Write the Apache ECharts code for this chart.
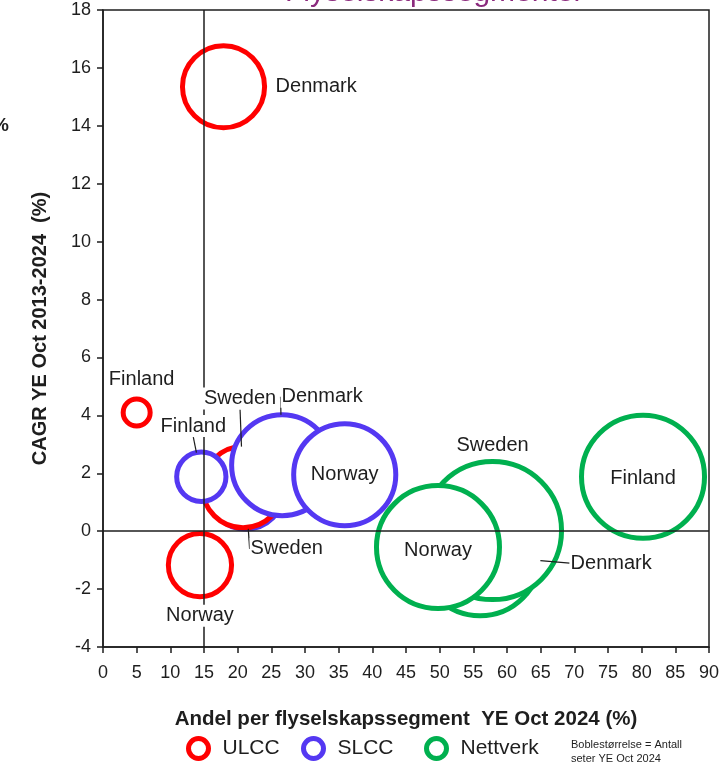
<!DOCTYPE html>
<html>
<head>
<meta charset="utf-8">
<script src="https://cdn.jsdelivr.net/npm/echarts@6/dist/echarts.min.js"></script>
<style>
  html, body { margin: 0; padding: 0; background: #fff; }
  #chart { width: 723px; height: 765px; }
</style>
</head>
<body>
<div id="chart"></div>
<script>
// ---- data: market share per airline segment (x), CAGR 2013-2024 (y), seats (bubble size, millions) ----
const ulccCountries = ['Denmark', 'Finland', 'Norway', 'Sweden'];
const ulccShare     = [17.9, 5.0, 14.4, 20.8];
const ulccCagr      = [15.35, 4.1, -1.17, 1.52];
const ulccSeats     = [8.6, 0.93, 5.1, 8.4];

const slccCountries = ['Sweden', 'Finland', 'Denmark', 'Norway'];
const slccShare     = [21.2, 14.6, 26.6, 35.9];
const slccCagr      = [1.41, 1.88, 2.28, 1.95];
const slccSeats     = [7.6, 3.1, 13.0, 13.3];

const netCountries  = ['Denmark', 'Sweden', 'Norway', 'Finland'];
const netShare      = [56.0, 57.85, 49.75, 80.2];
const netCagr       = [-0.83, 0.02, -0.55, 1.88];
const netSeats      = [18.7, 24.3, 19.3, 19.3];

// axis ticks
const xTicks = { min: 0, max: 90, step: 5 };
const yTicks = { min: -4, max: 18, step: 2 };

// reference lines
const refShare = 15;
const refCagr = 0;

const segmentNames = ['ULCC', 'SLCC', 'Nettverk'];

// ---- styling ----
const COLORS = { ULCC: '#ff0000', SLCC: '#5438f2', Nettverk: '#00b04f' };
const FONT = '"Liberation Sans", Arial, sans-serif';
const TEXT = '#1e1e1e';
const SIZE_K = 28; // diameter per sqrt(million seats)
const LEGEND_LEFT = [186, 301, 424];

// where each bubble's country label sits
const labelPlacement = {
  'ULCC|Denmark':  { position: 'right', distance: 10 },
  'ULCC|Finland':  { position: 'top', distance: 8, dx: 5 },
  'ULCC|Norway':   { position: 'bottom', distance: 8 },
  'ULCC|Sweden':   { position: 'top', distance: 5, dx: -3, dy: -32, line: true },
  'SLCC|Sweden':   { position: 'bottom', distance: 5, dx: 41, dy: 4, line: true },
  'SLCC|Finland':  { position: 'top', distance: 5, dx: -8, dy: -10, line: true },
  'SLCC|Denmark':  { position: 'top', distance: 5, dx: 40, dy: -2, line: true },
  'SLCC|Norway':   { position: 'inside' },
  'Nettverk|Denmark': { position: 'right', distance: 5, dx: 24, dy: 8, line: true },
  'Nettverk|Sweden':  { position: 'top', distance: 5 },
  'Nettverk|Norway':  { position: 'inside', dy: 3 },
  'Nettverk|Finland': { position: 'inside', dy: 2 }
};

function points(group, countries, share, cagr, seats, idx) {
  return idx.map(i => ({
    name: countries[i],
    group: group,
    value: [share[i], cagr[i], seats[i]]
  }));
}
const all = a => a.map((_, i) => i);

const slccUnder = points('SLCC', slccCountries, slccShare, slccCagr, slccSeats, [0]);
const slccRest  = points('SLCC', slccCountries, slccShare, slccCagr, slccSeats, [1, 2, 3]);
const ulccPts   = points('ULCC', ulccCountries, ulccShare, ulccCagr, ulccSeats, all(ulccCountries));
const netPts    = points('Nettverk', netCountries, netShare, netCagr, netSeats, all(netCountries));

const bubbleSize = v => SIZE_K * Math.sqrt(v[2]);

function bubbleSeries(name, data, z) {
  return {
    name: name,
    type: 'scatter',
    z: z,
    data: data.map(d => ({ name: d.name, value: d.value })),
    symbol: 'circle',
    symbolSize: bubbleSize,
    itemStyle: { color: '#ffffff', borderColor: COLORS[name], borderWidth: 5, opacity: 1 },
    emphasis: { disabled: true },
    silent: true,
    animation: false
  };
}

// label layer sits above the reference lines
const labelPts = [].concat(slccUnder, ulccPts, slccRest, netPts);
const labelData = labelPts.map(d => {
  const p = labelPlacement[d.group + '|' + d.name] || {};
  const item = {
    name: d.name,
    value: d.value,
    label: { position: p.position || 'top', distance: p.distance == null ? 5 : p.distance }
  };
  if (p.line) item.labelLine = { show: true };
  return item;
});

// one legend block per segment so each entry keeps its own spot
const legends = segmentNames.map((name, i) => ({
  data: [name],
  left: LEGEND_LEFT[i],
  top: 736,
  padding: 0,
  icon: 'circle',
  itemWidth: 20,
  itemHeight: 20,
  selectedMode: false,
  itemStyle: { borderWidth: 5 },
  textStyle: { fontFamily: FONT, fontSize: 21, color: TEXT, padding: [0, 0, 0, 9] }
}));

const option = {
  backgroundColor: '#ffffff',
  animation: false,
  grid: { left: 103, right: 14, top: 10, bottom: 118, show: true, borderColor: TEXT, borderWidth: 1.5 },
  xAxis: {
    type: 'value',
    min: xTicks.min, max: xTicks.max, interval: xTicks.step,
    name: 'Andel per flyselskapssegment  YE Oct 2024 (%)',
    nameLocation: 'middle',
    nameGap: 62,
    nameTextStyle: { fontFamily: FONT, fontSize: 20.5, fontWeight: 'bold', color: TEXT },
    axisLine: { show: true, onZero: false, lineStyle: { color: TEXT, width: 1.5 } },
    axisTick: { show: true, length: 6, lineStyle: { color: TEXT, width: 1.5 } },
    axisLabel: { fontFamily: FONT, fontSize: 18, color: TEXT, margin: 17 },
    splitLine: { show: false }
  },
  yAxis: {
    type: 'value',
    min: yTicks.min, max: yTicks.max, interval: yTicks.step,
    name: 'CAGR YE Oct 2013-2024  (%)',
    nameLocation: 'middle',
    nameGap: 53,
    nameRotate: 90,
    nameTextStyle: { fontFamily: FONT, fontSize: 20, fontWeight: 'bold', color: TEXT },
    axisLine: { show: true, onZero: false, lineStyle: { color: TEXT, width: 1.5 } },
    axisTick: { show: true, length: 6, lineStyle: { color: TEXT, width: 1.5 } },
    axisLabel: { fontFamily: FONT, fontSize: 18, color: TEXT, margin: 12 },
    splitLine: { show: false }
  },
  legend: legends,
  graphic: [
    {
      type: 'text', left: 285, top: -22, silent: true,
      style: { text: 'Flyselskapssegmenter', fontFamily: FONT, fontSize: 30, fill: '#8b2a7d' }
    },
    {
      type: 'text', left: -8, top: 116, silent: true,
      style: { text: '%', fontFamily: FONT, fontSize: 19, fontWeight: 'bold', fill: TEXT }
    },
    {
      type: 'text', left: 571, top: 738, silent: true,
      style: { text: 'Boblestørrelse = Antall\nseter YE Oct 2024', fontFamily: FONT, fontSize: 11, lineHeight: 14, fill: TEXT }
    }
  ],
  series: [
    bubbleSeries('SLCC', slccUnder, 2),
    bubbleSeries('ULCC', ulccPts, 2),
    bubbleSeries('SLCC', slccRest, 2),
    bubbleSeries('Nettverk', netPts, 2),
    {
      name: 'reference',
      type: 'scatter',
      z: 4,
      data: [],
      silent: true,
      markLine: {
        silent: true,
        symbol: 'none',
        animation: false,
        label: { show: false },
        lineStyle: { color: TEXT, width: 1.5, type: 'solid' },
        emphasis: { disabled: true },
        data: [{ xAxis: refShare }, { yAxis: refCagr }]
      }
    },
    {
      name: 'labels',
      type: 'scatter',
      z: 6,
      data: labelData,
      symbolSize: bubbleSize,
      itemStyle: { color: 'rgba(0,0,0,0)', borderWidth: 0, opacity: 1 },
      emphasis: { disabled: true },
      silent: true,
      label: {
        show: true,
        formatter: '{b}',
        fontFamily: FONT,
        fontSize: 20,
        color: TEXT,
        opacity: 1,
        backgroundColor: '#ffffff',
        padding: [1, 1]
      },
      labelLine: { show: false, lineStyle: { color: TEXT, width: 1.2, opacity: 1 } },
      labelLayout: function (params) {
        const d = labelPts[params.dataIndex];
        const p = labelPlacement[d.group + '|' + d.name] || {};
        return { dx: p.dx || 0, dy: p.dy || 0 };
      }
    }
  ]
};

const chart = echarts.init(document.getElementById('chart'), null, { renderer: 'canvas' });
chart.setOption(option);
</script>
</body>
</html>
